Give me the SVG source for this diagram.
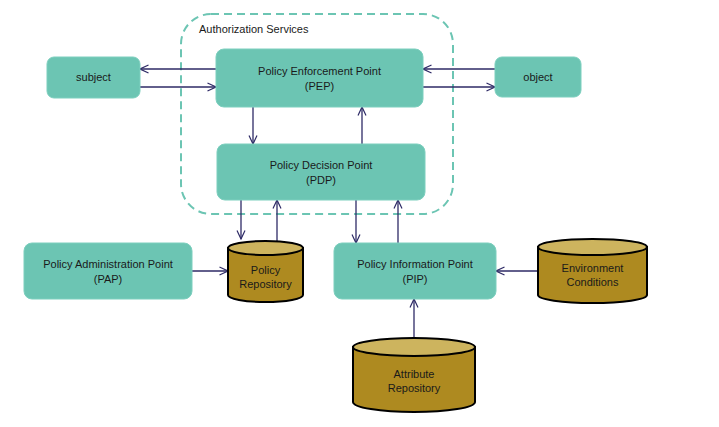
<svg xmlns="http://www.w3.org/2000/svg" width="719" height="427" viewBox="0 0 719 427">
<defs>
<marker id="ah" viewBox="0 0 10 10" refX="9.5" refY="5" markerWidth="10" markerHeight="10" markerUnits="userSpaceOnUse" orient="auto">
<path d="M1,1 L9.5,5 L1,9" fill="none" stroke="#2E2A66" stroke-width="1.2"/>
</marker>
</defs>
<style>
.node{fill:#6CC5B3;stroke:#7ccfbe;stroke-width:1}
.t{font-family:"Liberation Sans",Arial,sans-serif;font-size:11px;fill:#1a1a1a;text-anchor:middle}
.cb{fill:#AE8A20;stroke:#000;stroke-width:2}
.ct{fill:#CDB45E;stroke:#000;stroke-width:2}
.c{fill:none;stroke:#2E2A66;stroke-width:1.3;marker-end:url(#ah)}
</style>
<rect width="719" height="427" fill="#fff"/>
<g id="authz">
<rect x="181" y="14" width="272" height="200" rx="30" fill="none" stroke="#6CC5B3" stroke-width="2" stroke-dasharray="8,5"/>
<text class="t" x="199" y="33" style="text-anchor:start">Authorization Services</text>
</g>
<g id="connectors">
<line class="c" x1="216" y1="69" x2="140" y2="69"/>
<line class="c" x1="140" y1="87" x2="216" y2="87"/>
<line class="c" x1="495" y1="69" x2="423" y2="69"/>
<line class="c" x1="423" y1="87" x2="495" y2="87"/>
<line class="c" x1="253" y1="107" x2="253" y2="144"/>
<line class="c" x1="362" y1="144" x2="362" y2="107"/>
<line class="c" x1="241" y1="200" x2="241" y2="239"/>
<line class="c" x1="277" y1="241" x2="277" y2="200"/>
<line class="c" x1="356" y1="200" x2="356" y2="243"/>
<line class="c" x1="398" y1="243" x2="398" y2="200"/>
<line class="c" x1="192" y1="271" x2="228" y2="271"/>
<line class="c" x1="538" y1="271" x2="496" y2="271"/>
<line class="c" x1="414" y1="338" x2="414" y2="299"/>
</g>
<g id="subject">
<rect class="node" x="47" y="57" width="93" height="41" rx="7"/>
<text class="t" x="93.5" y="81">subject</text>
</g>
<g id="object">
<rect class="node" x="495" y="57" width="86" height="40" rx="7"/>
<text class="t" x="538" y="81">object</text>
</g>
<g id="pep">
<rect class="node" x="216" y="49" width="207" height="58" rx="8"/>
<text class="t" x="319.5" y="75">Policy Enforcement Point</text>
<text class="t" x="319.5" y="90">(PEP)</text>
</g>
<g id="pdp">
<rect class="node" x="217" y="144" width="208" height="56" rx="8"/>
<text class="t" x="321" y="169">Policy Decision Point</text>
<text class="t" x="321" y="184">(PDP)</text>
</g>
<g id="pap">
<rect class="node" x="24" y="243" width="168" height="56" rx="8"/>
<text class="t" x="108" y="268">Policy Administration Point</text>
<text class="t" x="108" y="283">(PAP)</text>
</g>
<g id="pip">
<rect class="node" x="334" y="243" width="162" height="56" rx="8"/>
<text class="t" x="415" y="268">Policy Information Point</text>
<text class="t" x="415" y="283">(PIP)</text>
</g>
<g id="policy-repository">
<path class="cb" d="M228,248 L228,295 A37.5,7 0 0 0 303,295 L303,248 Z"/>
<ellipse class="ct" cx="265.5" cy="248" rx="37.5" ry="7"/>
<text class="t" x="265.5" y="274">Policy</text>
<text class="t" x="265.5" y="288">Repository</text>
</g>
<g id="environment">
<path class="cb" d="M538,247 L538,295 A54.5,8 0 0 0 647,295 L647,247 Z"/>
<ellipse class="ct" cx="592.5" cy="247" rx="54.5" ry="8"/>
<text class="t" x="592.5" y="272">Environment</text>
<text class="t" x="592.5" y="286">Conditions</text>
</g>
<g id="attribute-repository">
<path class="cb" d="M353,347 L353,402 A61,10 0 0 0 475,402 L475,347 Z"/>
<ellipse class="ct" cx="414" cy="347" rx="61" ry="9"/>
<text class="t" x="414" y="378">Attribute</text>
<text class="t" x="414" y="392">Repository</text>
</g>
</svg>
